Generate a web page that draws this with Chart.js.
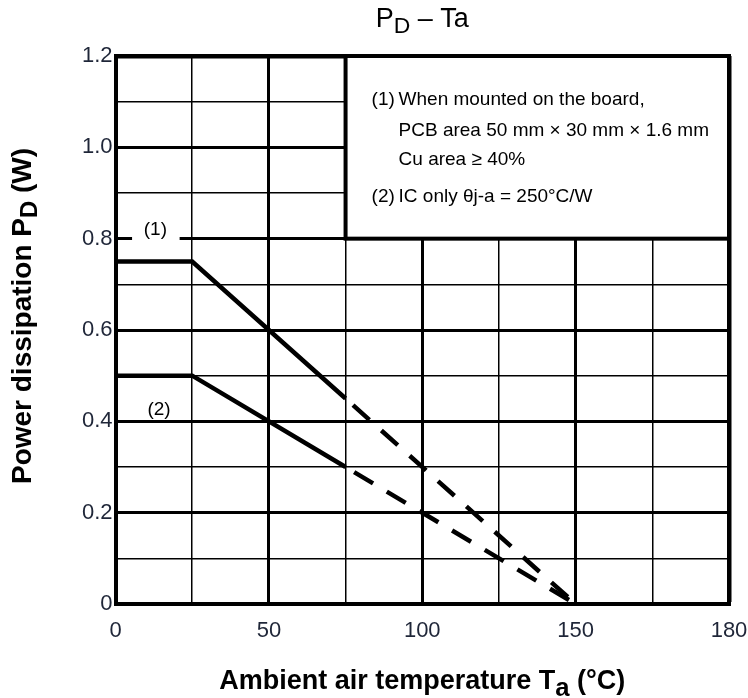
<!DOCTYPE html>
<html>
<head>
<meta charset="utf-8">
<script src="https://cdn.jsdelivr.net/npm/chart.js@4.4.1/dist/chart.umd.min.js"></script>
<style>
  body { margin: 0; background: #fff; }
  #wrap { width: 748px; height: 698px; position: relative; }
</style>
</head>
<body>
<div id="wrap"><canvas id="pdChart"></canvas></div>
<script>
// data
const ambientTemp = [0, 25, 75, 150];
const pdBoard = [0.75, 0.75, 0.45, 0];
const pdIcOnly = [0.5, 0.5, 0.3, 0];
const xTickLabels = ["0", "50", "100", "150", "180"];
const yTickLabels = ["0", "0.2", "0.4", "0.6", "0.8", "1.0", "1.2"];
const curveLabels = ["(1)", "(2)"];
const noteMarks = ["(1)", "", "", "(2)"];
const noteLines = [
  "When mounted on the board,",
  "PCB area 50 mm × 30 mm × 1.6 mm",
  "Cu area ≥ 40%",
  "IC only θj-a = 250°C/W",
];
const titleParts = [["P", false], ["D", true], [" – Ta", false]];
const xTitleParts = [["Ambient air temperature T", false], ["a", true], [" (°C)", false]];
const yTitleParts = [["Power dissipation P", false], ["D", true], [" (W)", false]];

const FONT = '"Liberation Sans", Arial, sans-serif';

// text with a lowered subscript, centred on x
function drawRich(ctx, parts, x, y, size, weight, subScale, subDrop) {
  let widths = parts.map(([t, sub]) => {
    ctx.font = weight + " " + (sub ? size * subScale : size) + "px " + FONT;
    return ctx.measureText(t).width;
  });
  let total = widths.reduce((a, b) => a + b, 0);
  let cx = x - total / 2;
  ctx.textAlign = "left";
  ctx.textBaseline = "alphabetic";
  parts.forEach(([t, sub], i) => {
    ctx.font = weight + " " + (sub ? size * subScale : size) + "px " + FONT;
    ctx.fillText(t, cx, sub ? y + subDrop : y);
    cx += widths[i];
  });
}

const annotate = {
  id: "annotate",
  beforeDatasetsDraw(chart) {
    const { ctx, scales: { x, y } } = chart;
    const l = x.getPixelForValue(75), r = x.getPixelForValue(x.max);
    const t = y.getPixelForValue(y.max), b = y.getPixelForValue(0.8);
    ctx.save();
    // note box
    ctx.fillStyle = "#fff";
    ctx.fillRect(l, t, r - l, b - t);
    ctx.strokeStyle = "#000";
    ctx.lineWidth = 4;
    ctx.strokeRect(l, t, r - l, b - t);
    ctx.fillStyle = "#000";
    ctx.font = "19px " + FONT;
    ctx.textAlign = "left";
    ctx.textBaseline = "alphabetic";
    const offs = [49, 80, 109, 146];
    noteLines.forEach((line, i) => {
      if (noteMarks[i]) ctx.fillText(noteMarks[i], l + 26, t + offs[i]);
      ctx.fillText(line, l + 53, t + offs[i]);
    });
    // gap in the 0.8 line for the (1) label
    const g0 = x.getPixelForValue(5.4), g1 = x.getPixelForValue(20.9);
    ctx.fillStyle = "#fff";
    ctx.fillRect(g0, b - 4, g1 - g0, 8);
    ctx.fillStyle = "#000";
    ctx.textAlign = "center";
    ctx.fillText(curveLabels[0], x.getPixelForValue(13), b - 4);
    ctx.fillText(curveLabels[1], x.getPixelForValue(14.2), y.getPixelForValue(0.43) + 7);
    ctx.restore();
  },
  afterDraw(chart) {
    const { ctx, chartArea } = chart;
    const mid = (chartArea.left + chartArea.right) / 2;
    ctx.save();
    ctx.fillStyle = "#000";
    drawRich(ctx, titleParts, mid, 27, 27, "normal", 0.85, 6);
    drawRich(ctx, xTitleParts, mid, 689, 27, "bold", 0.95, 7);
    ctx.translate(31, 316);
    ctx.rotate(-Math.PI / 2);
    drawRich(ctx, yTitleParts, 0, 0, 28, "bold", 0.85, 6);
    ctx.restore();
  },
};

const toPoints = (ys) => ambientTemp.map((t, i) => ({ x: t, y: ys[i] }));
const dashAfterSolid = (ctx) => (ctx.p0DataIndex >= 2 ? [22, 16] : undefined);

const chartData = {
  datasets: [
    {
      label: "(1) board",
      data: toPoints(pdBoard),
      borderColor: "#000",
      borderWidth: 4.5,
      pointRadius: 0,
      segment: { borderDash: dashAfterSolid, borderDashOffset: 28 },
    },
    {
      label: "(2) IC only",
      data: toPoints(pdIcOnly),
      borderColor: "#000",
      borderWidth: 4.5,
      pointRadius: 0,
      segment: { borderDash: dashAfterSolid, borderDashOffset: 28 },
    },
  ],
};

const chartConfig = {
  type: "line",
  data: chartData,
  options: {
    responsive: true,
    maintainAspectRatio: false,
    animation: false,
    layout: { padding: { top: 56, right: 19, left: 0, bottom: 0 } },
    plugins: { legend: { display: false }, tooltip: { enabled: false } },
    scales: {
      x: {
        type: "linear",
        min: 0,
        max: 200,
        afterFit: (s) => { s.height = 94; s.paddingRight = 0; s.paddingLeft = 0; },
        border: { display: true, width: 4, color: "#000" },
        grid: {
          color: "#000",
          drawTicks: false,
          lineWidth: (c) => (c.tick.value === 200 ? 4.5 : c.tick.value % 50 === 0 ? 3 : 1.5),
        },
        ticks: {
          stepSize: 25,
          padding: 14,
          maxRotation: 0,
          autoSkip: false,
          color: "#1f2638",
          font: { family: FONT, size: 22 },
          callback: (v) => (v % 50 === 0 ? xTickLabels[v / 50] : ""),
        },
      },
      y: {
        min: 0,
        max: 1.2,
        afterFit: (s) => { s.width = 115.5; },
        border: { display: true, width: 4, color: "#000" },
        grid: {
          color: "#000",
          drawTicks: false,
          lineWidth: (c) => {
            const n = Math.round(c.tick.value * 10);
            return n === 12 ? 4.5 : n % 2 === 0 ? 3 : 1.5;
          },
        },
        ticks: {
          stepSize: 0.1,
          padding: 3,
          autoSkip: false,
          color: "#1f2638",
          font: { family: FONT, size: 22 },
          callback: (v) => {
            const n = Math.round(v * 10);
            return n % 2 === 0 ? yTickLabels[n / 2] : "";
          },
        },
      },
    },
  },
  plugins: [annotate],
};

// init
const pdChart = new Chart(document.getElementById("pdChart"), chartConfig);
</script>
</body>
</html>
